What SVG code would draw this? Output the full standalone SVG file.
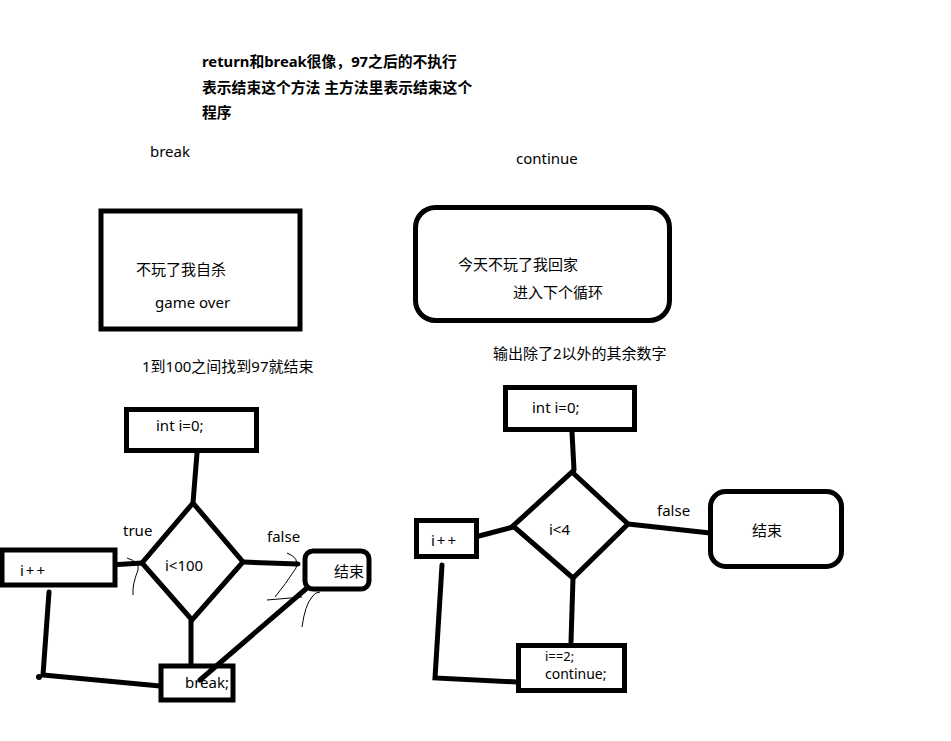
<svg xmlns="http://www.w3.org/2000/svg" width="951" height="741" viewBox="0 0 951 741">
<style>
text{font-family:"Noto Sans","Noto Sans CJK SC",sans-serif;font-size:15px;fill:#000}
.b{font-weight:bold;font-size:14.8px}
.p{letter-spacing:2px}
.s{fill:#fff;stroke:#000;stroke-width:5}
.l{fill:none;stroke:#000;stroke-width:5;stroke-linecap:round}
.t{fill:none;stroke:#000;stroke-width:1}
</style>
<rect width="951" height="741" fill="#fff"/>
<g id="notes">
<text class="b" x="202" y="67">return和break很像，97之后的不执行</text>
<text class="b" x="202" y="93">表示结束这个方法 主方法里表示结束这个</text>
<text class="b" x="202" y="118">程序</text>
<text x="150" y="157">break</text>
<text x="516" y="164">continue</text>
<text x="142" y="372">1到100之间找到97就结束</text>
<text x="493" y="359">输出除了2以外的其余数字</text>
</g>
<g id="break-box">
<rect class="s" x="101" y="211" width="199" height="118"/>
<text x="136" y="275">不玩了我自杀</text>
<text x="155" y="308">game over</text>
</g>
<g id="continue-box">
<rect class="s" x="415.5" y="207.5" width="254" height="113" rx="20"/>
<text x="458" y="270">今天不玩了我回家</text>
<text x="513" y="298">进入下个循环</text>
</g>
<g id="connectors">
<path class="l" d="M197,453 L193,503"/>
<path class="l" d="M110,565 L142,563"/>
<path class="l" d="M243,562 L298,564"/>
<path class="l" d="M191,620 L191,665"/>
<path class="l" d="M49,592 L43,675 L160,686"/>
<circle cx="39" cy="677" r="3"/>
<path class="t" d="M127,558 Q140,562 138,570 Q132,585 133,595"/>
<path class="t" d="M287,553 Q300,558 296,568 Q285,585 275,597"/>
<path class="t" d="M267,600 L302,597"/>
<path class="t" d="M302,627 Q305,605 312,597 Q315,592 320,592"/>
<path class="l" d="M572,432 L574,470"/>
<path class="l" d="M479,536 L513,527"/>
<path class="l" d="M628,524 L710,533"/>
<path class="l" d="M573,578 L571,642"/>
<path class="l" d="M442,565 L435,678 L517,682"/>
</g>
<g id="init1">
<rect class="s" x="126.5" y="409.5" width="130" height="41"/>
<text x="156" y="431">int i=0;</text>
</g>
<g id="cond1">
<path class="s" d="M193,503 L243,562 L192,620 L142,563 Z"/>
<text x="165" y="571">i&lt;100</text>
</g>
<text x="123" y="536">true</text>
<text x="267" y="542">false</text>
<g id="inc1">
<rect class="s" x="2" y="550" width="113" height="35"/>
<text class="p" x="20" y="576">i++</text>
</g>
<g id="end1">
<rect class="s" x="305" y="551" width="64" height="38" rx="8"/>
<text x="334" y="577">结束</text>
</g>
<g id="break1">
<rect class="s" x="161" y="666" width="72" height="34"/>
<text x="185" y="688">break;</text>
</g>
<path class="l" d="M307,588 L200,680"/>
<g id="init2">
<rect class="s" x="505.5" y="387.5" width="129" height="42"/>
<text x="532" y="413">int i=0;</text>
</g>
<g id="cond2">
<path class="s" d="M572,472 L628,524 L573,578 L513,526 Z"/>
<text x="549" y="535">i&lt;4</text>
</g>
<text x="657" y="516">false</text>
<g id="inc2">
<rect class="s" x="416.5" y="520.5" width="60" height="36"/>
<text class="p" x="431" y="546">i++</text>
</g>
<g id="end2">
<rect class="s" x="710.5" y="491.5" width="131" height="75" rx="15"/>
<text x="752" y="536">结束</text>
</g>
<g id="continue2">
<rect class="s" x="518.5" y="645.5" width="106" height="45"/>
<text x="545" y="661" style="font-size:13px">i==2;</text>
<text x="545" y="679" style="font-size:14px">continue;</text>
</g>
</svg>
